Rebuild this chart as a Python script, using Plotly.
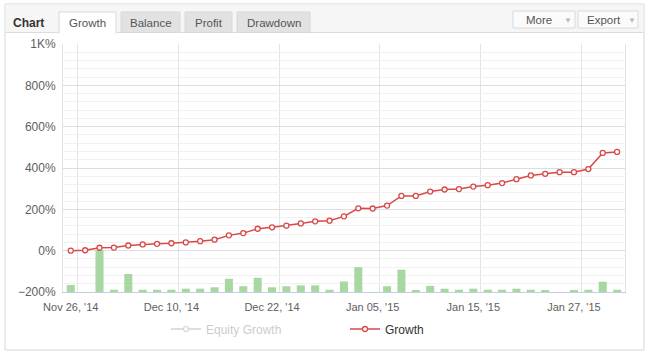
import plotly.graph_objects as go

# ---------------- data ----------------
dates = ["Nov 26, '14", "Nov 28, '14", "Dec 01, '14", "Dec 02, '14", "Dec 04, '14",
         "Dec 05, '14", "Dec 08, '14", "Dec 10, '14", "Dec 11, '14", "Dec 12, '14",
         "Dec 15, '14", "Dec 16, '14", "Dec 17, '14", "Dec 19, '14", "Dec 22, '14",
         "Dec 23, '14", "Dec 24, '14", "Dec 26, '14", "Dec 29, '14", "Dec 30, '14",
         "Dec 31, '14", "Jan 05, '15", "Jan 06, '15", "Jan 07, '15", "Jan 08, '15",
         "Jan 09, '15", "Jan 12, '15", "Jan 13, '15", "Jan 15, '15", "Jan 16, '15",
         "Jan 19, '15", "Jan 20, '15", "Jan 21, '15", "Jan 22, '15", "Jan 23, '15",
         "Jan 27, '15", "Jan 28, '15", "Jan 29, '15", "Jan 30, '15"]

growth = [0, 2, 14, 15, 25, 30, 33, 36, 40, 46, 53, 74, 85, 106, 113, 121, 132, 142,
          145, 166, 205, 204, 218, 265, 265, 286, 296, 298, 310, 317, 327, 346, 364,
          372, 380, 380, 395, 473, 478]

equity_growth = [0, 2, 14, 15, 25, 30, 33, 36, 40, 46, 53, 74, 85, 106, 113, 121, 132, 142,
                 145, 166, 205, 204, 218, 265, 265, 286, 296, 298, 310, 317, 327, 346, 364,
                 372, 380, 380, 395, 473, 478]

# daily activity bars (drawn from the bottom of the axis, same % scale)
daily_bars = [34, 0, 203, 11, 87, 11, 11, 11, 16, 16, 23, 64, 28, 69, 23, 28, 32, 32,
              11, 51, 120, 0, 28, 108, 6, 30, 16, 11, 16, 11, 11, 16, 11, 6, 0, 6, 11,
              50, 11]

y_tick_vals = [-200, 0, 200, 400, 600, 800, 1000]
y_tick_text = ["\u2212200%", "0%", "200%", "400%", "600%", "800%", "1K%"]
x_label_idx = [0, 7, 14, 21, 28, 35]

tabs = ["Growth", "Balance", "Profit", "Drawdown"]

# ---------------- layout helpers ----------------
W, H = 648, 361
L, R, T, B = 63, 23, 44, 69
PW, PH = W - L - R, H - T - B


def px(x):
    return (x - L) / PW


def py(y):
    return (H - B - y) / PH


xs = list(range(len(growth)))
base_val = y_tick_vals[0]

fig = go.Figure()

fig.add_trace(go.Bar(
    x=xs, y=daily_bars, base=base_val, width=0.56,
    marker=dict(color="#a8d8a2", line=dict(width=0)),
    showlegend=False, hoverinfo="skip",
))

fig.add_trace(go.Scatter(
    x=xs, y=equity_growth, name="<span style='color:#999999'>Equity Growth</span>",
    mode="lines+markers", visible="legendonly",
    line=dict(color="#aaaaaa", width=1.5),
    marker=dict(symbol="circle", size=5, color="white", line=dict(color="#aaaaaa", width=1.2)),
    text=dates, hovertemplate="%{text}<br>%{y}%<extra></extra>",
))

fig.add_trace(go.Scatter(
    x=xs, y=growth, name="Growth",
    mode="lines+markers",
    line=dict(color="#d94848", width=1.5),
    marker=dict(symbol="circle", size=5, color="white", line=dict(color="#d94848", width=1.3)),
    text=dates, hovertemplate="%{text}<br>%{y}%<extra></extra>",
))

shapes = []
# outer frame
shapes.append(dict(type="rect", xref="paper", yref="paper",
                   x0=px(5), x1=px(644), y0=py(350), y1=py(4),
                   line=dict(color="#d6d6d6", width=1), fillcolor="rgba(0,0,0,0)", layer="below"))
# header band
shapes.append(dict(type="rect", xref="paper", yref="paper",
                   x0=px(5.5), x1=px(643.5), y0=py(32), y1=py(4.5),
                   line=dict(width=0), fillcolor="#f6f6f6", layer="below"))
shapes.append(dict(type="line", xref="paper", yref="paper",
                   x0=px(5.5), x1=px(643.5), y0=py(32.5), y1=py(32.5),
                   line=dict(color="#dcdcdc", width=1)))
# tabs
tab_boxes = [(59, 116), (121, 180), (185, 232), (237, 310)]
for i, (a, b) in enumerate(tab_boxes):
    active = i == 0
    shapes.append(dict(type="rect", xref="paper", yref="paper",
                       x0=px(a), x1=px(b), y0=py(33.5 if active else 32.5), y1=py(12),
                       line=dict(color="#d8d8d8", width=1),
                       fillcolor="#ffffff" if active else "#e2e2e2"))
# hide active tab bottom border
shapes.append(dict(type="line", xref="paper", yref="paper",
                   x0=px(59.5), x1=px(115.5), y0=py(33), y1=py(33),
                   line=dict(color="#ffffff", width=2)))
# buttons
for a, b in [(513, 575), (578, 638)]:
    shapes.append(dict(type="rect", xref="paper", yref="paper",
                       x0=px(a), x1=px(b), y0=py(28), y1=py(11),
                       line=dict(color="#dadada", width=1), fillcolor="#fbfbfb"))

font_ui = "Liberation Sans, Arial, sans-serif"
annotations = []


def ann(text, x, y, size=11, color="#444444", bold=False):
    annotations.append(dict(
        text=f"<b>{text}</b>" if bold else text, x=px(x), y=py(y),
        xref="paper", yref="paper", xanchor="center", yanchor="middle",
        showarrow=False, font=dict(family=font_ui, size=size, color=color)))


ann("Chart", 28.5, 22.5, size=12, color="#333333", bold=True)
for t, (a, b) in zip(tabs, tab_boxes):
    ann(t, (a + b) / 2, 23, size=11.5, color="#555555")
ann("More", 539, 20, size=11.5, color="#555555")
ann("\u25bc", 568, 20, size=8, color="#bbbbbb")
ann("Export", 604, 20, size=11.5, color="#555555")
ann("\u25bc", 632, 20, size=8, color="#bbbbbb")

fig.update_layout(
    width=W, height=H,
    margin=dict(l=L, r=R, t=T, b=B, pad=0),
    paper_bgcolor="white", plot_bgcolor="white",
    font=dict(family=font_ui, color="#606060"),
    barmode="overlay",
    showlegend=True,
    legend=dict(orientation="h", x=px(166), y=py(329), xanchor="left", yanchor="middle",
                entrywidth=134, entrywidthmode="pixels",
                font=dict(size=12, color="#333333", family=font_ui),
                bgcolor="rgba(0,0,0,0)", itemclick=False, itemdoubleclick=False),
    shapes=shapes,
    annotations=annotations,
    xaxis=dict(
        range=[-0.54, len(growth) - 0.45],
        tickmode="array", tickvals=x_label_idx, ticktext=[dates[i] for i in x_label_idx],
        tickfont=dict(size=11, color="#606060"),
        showgrid=False, zeroline=False,
        ticks="", ticklabelstandoff=5,
        minor=dict(tickmode="array", tickvals=[i + 0.5 for i in x_label_idx],
                   showgrid=True, gridcolor="#e4e4e4", gridwidth=1, ticks=""),
        showline=True, linecolor="#c0d0e0", linewidth=1,
        fixedrange=True,
    ),
    yaxis=dict(
        range=[y_tick_vals[0], y_tick_vals[-1]],
        tickmode="array", tickvals=y_tick_vals, ticktext=y_tick_text,
        tickfont=dict(size=12, color="#606060"),
        showgrid=True, gridcolor="#dddddd", gridwidth=1, zeroline=False,
        minor=dict(dtick=40, tick0=-200, showgrid=True, gridcolor="#f1f1f1", ticks=""),
        showline=True, linecolor="#e2e2e2", mirror=True, ticks="", ticklabelstandoff=4,
        fixedrange=True,
    ),
)

fig.write_html("out.html", config={"displayModeBar": False})
